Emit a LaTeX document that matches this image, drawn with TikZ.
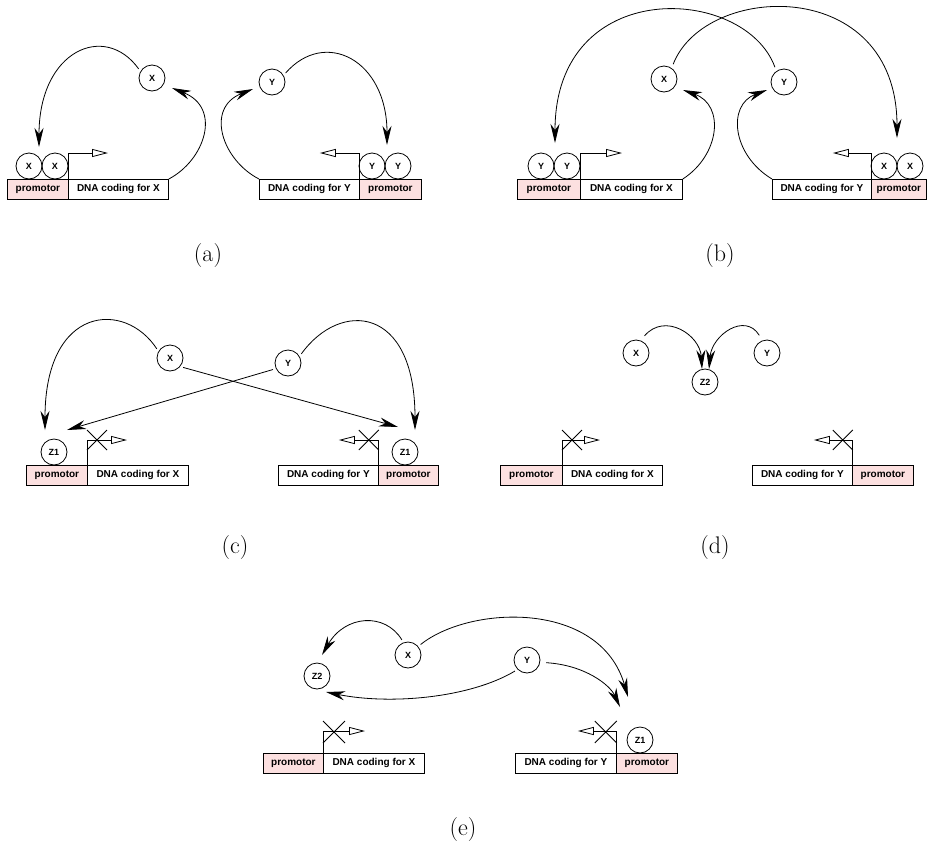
\documentclass[tikz,border=0pt]{standalone}
\usepackage{fontspec}
\newfontfamily\hv{Liberation Sans}
\usetikzlibrary{arrows.meta}
\definecolor{pinkfill}{RGB}{252,224,224}
\begin{document}
\begin{tikzpicture}[x=1pt,y=-1pt,
  box/.style={draw, line width=0.8pt, anchor=north west, minimum height=20pt, inner sep=0pt, font=\hv\bfseries\fontsize{10}{12}\selectfont},
  prom/.style={box, fill=pinkfill},
  dna/.style={box, fill=white},
  mol/.style={circle, draw, line width=0.8pt, minimum size=26pt, inner sep=0pt, font=\hv\bfseries\fontsize{9}{10}\selectfont},
  arr/.style={line width=0.8pt, -{Stealth[length=19pt,width=9pt,inset=6pt]}},
  tss/.style={line width=0.8pt, -{Triangle[open,length=16pt,width=8pt]}},
  crossline/.style={line width=0.8pt},
  capt/.style={font=\fontsize{24}{28}\selectfont}
]
\useasboundingbox (0,0) rectangle (927,852);
% ---------- (a)
\node[prom, minimum width=61pt] (aP1) at (7,179) {promotor};
\node[dna, minimum width=100pt] (aD1) at (68,179) {DNA coding for X};
\node[dna, minimum width=100pt] (aD2) at (259,179) {DNA coding for Y};
\node[prom, minimum width=62pt] (aP2) at (359,179) {promotor};
\node[mol] (aXb1) at (29,166) {X};
\node[mol] (aXb2) at (55,166) {X};
\node[mol] (aYb1) at (372,166) {Y};
\node[mol] (aYb2) at (398,166) {Y};
\node[mol] (aX) at (152,78) {X};
\node[mol] (aY) at (272,82) {Y};
\draw[tss] (aD1.north west) -- ++(0,-26) -- ++(40,0);
\draw[tss] (aD2.north east) -- ++(0,-26) -- ++(-40,0);
\coordinate (aT1) at (39,147);
\coordinate (aT2) at (172,88);
\coordinate (aT3) at (387,145);
\coordinate (aT4) at (253,89);
\draw[arr, shorten <=3pt] (aX.150) .. controls (105,22) and (39,50) .. (aT1);
\draw[arr] (aD1.north east) .. controls (205,160) and (222,108) .. (aT2);
\draw[arr, shorten <=3pt] (aY.30) .. controls (325,28) and (387,60) .. (aT3);
\draw[arr] (aD2.north west) .. controls (222,160) and (205,108) .. (aT4);
\node[capt] (aCap) at (208,256) {(a)};
% ---------- (b)
\node[prom, minimum width=63pt] (bP1) at (517,179) {promotor};
\node[dna, minimum width=102pt] (bD1) at (580,179) {DNA coding for X};
\node[dna, minimum width=99pt] (bD2) at (772,179) {DNA coding for Y};
\node[prom, minimum width=55pt] (bP2) at (871,179) {promotor};
\node[mol] (bYb1) at (541,166) {Y};
\node[mol] (bYb2) at (567,166) {Y};
\node[mol] (bXb1) at (884,166) {X};
\node[mol] (bXb2) at (910,166) {X};
\node[mol] (bX) at (664,79) {X};
\node[mol] (bY) at (784,82) {Y};
\draw[tss] (bD1.north west) -- ++(0,-26) -- ++(42,0);
\draw[tss] (bD2.north east) -- ++(0,-26) -- ++(-39,0);
\coordinate (bT1) at (555,143);
\coordinate (bT2) at (897,138);
\coordinate (bT3) at (683,90);
\coordinate (bT4) at (767,90);
\draw[arr, shorten <=4pt] (bY.125) .. controls (745,-15) and (555,-25) .. (bT1);
\draw[arr, shorten <=4pt] (bX.55) .. controls (705,-18) and (897,-25) .. (bT2);
\draw[arr] (bD1.north east) .. controls (720,155) and (725,105) .. (bT3);
\draw[arr] (bD2.north west) .. controls (732,155) and (727,105) .. (bT4);
\node[capt] (bCap) at (720,256) {(b)};
% ---------- (c)
\node[prom, minimum width=61pt] (cP1) at (26,465) {promotor};
\node[dna, minimum width=101pt] (cD1) at (87,465) {DNA coding for X};
\node[dna, minimum width=100pt] (cD2) at (278,465) {DNA coding for Y};
\node[prom, minimum width=60pt] (cP2) at (378,465) {promotor};
\node[mol] (cZa) at (54,452) {Z1};
\node[mol] (cZb) at (405,452) {Z1};
\node[mol] (cX) at (170,358) {X};
\node[mol] (cY) at (288,363) {Y};
\draw[tss] (cD1.north west) -- ++(0,-25) -- ++(40,0);
\draw[tss] (cD2.north east) -- ++(0,-25) -- ++(-40,0);
\draw[crossline] (cD1.north west) ++(0,-35) -- ++(20,20) ++(0,-20) -- ++(-20,20);
\draw[crossline] (cD2.north east) ++(0,-35) -- ++(-20,20) ++(0,-20) -- ++(20,20);
\coordinate (cT1) at (45,430);
\coordinate (cT2) at (67,430);
\coordinate (cT3) at (398,427);
\coordinate (cT4) at (415,430);
\draw[arr, shorten <=3pt] (cX.150) .. controls (125,300) and (45,305) .. (cT1);
\draw[arr, shorten <=3pt] (cY.205) -- (cT2);
\draw[arr, shorten <=3pt] (cX.-40) -- (cT3);
\draw[arr, shorten <=3pt] (cY.30) .. controls (340,300) and (415,305) .. (cT4);
\node[capt] (cCap) at (235,548) {(c)};
% ---------- (d)
\node[prom, minimum width=62pt] (dP1) at (500,465) {promotor};
\node[dna, minimum width=100pt] (dD1) at (562,465) {DNA coding for X};
\node[dna, minimum width=100pt] (dD2) at (752,465) {DNA coding for Y};
\node[prom, minimum width=61pt] (dP2) at (852,465) {promotor};
\node[mol] (dX) at (636,353) {X};
\node[mol] (dY) at (767,353) {Y};
\node[mol] (dZ) at (705,382) {Z2};
\draw[tss] (dD1.north west) -- ++(0,-25) -- ++(38,0);
\draw[tss] (dD2.north east) -- ++(0,-25) -- ++(-39,0);
\draw[crossline] (dD1.north west) ++(0,-35) -- ++(20,20) ++(0,-20) -- ++(-20,20);
\draw[crossline] (dD2.north east) ++(0,-35) -- ++(-20,20) ++(0,-20) -- ++(20,20);
\coordinate (dT1) at (702,369);
\coordinate (dT2) at (709,369);
\draw[arr, shorten <=6pt] (dX.70) .. controls (665,312) and (700,335) .. (dT1);
\draw[arr, shorten <=6pt] (dY.110) .. controls (745,312) and (712,335) .. (dT2);
\node[capt] (dCap) at (715,548) {(d)};
% ---------- (e)
\node[prom, minimum width=60pt] (eP1) at (263,753) {promotor};
\node[dna, minimum width=101pt] (eD1) at (323,753) {DNA coding for X};
\node[dna, minimum width=101pt] (eD2) at (515,753) {DNA coding for Y};
\node[prom, minimum width=61pt] (eP2) at (616,753) {promotor};
\node[mol] (eX) at (408,655) {X};
\node[mol] (eY) at (527,660) {Y};
\node[mol] (eZ2) at (317,676) {Z2};
\node[mol] (eZ1) at (640,740) {Z1};
\draw[tss] (eD1.north west) -- ++(0,-22) -- ++(42,0);
\draw[tss] (eD2.north east) -- ++(0,-22) -- ++(-39,0);
\draw[crossline] (eD1.north west) ++(0,-32) -- ++(22,22) ++(0,-22) -- ++(-22,22);
\draw[crossline] (eD2.north east) ++(0,-32) -- ++(-22,22) ++(0,-22) -- ++(22,22);
\coordinate (eT1) at (322,655);
\coordinate (eT2) at (326,692);
\coordinate (eT3) at (628,697);
\coordinate (eT4) at (620,707);
\draw[arr, shorten <=3pt] (eX.110) .. controls (385,612) and (345,615) .. (eT1);
\draw[arr, shorten <=3pt] (eY.225) .. controls (470,698) and (390,705) .. (eT2);
\draw[arr, shorten <=3pt] (eX.40) .. controls (470,605) and (600,600) .. (eT3);
\draw[arr, shorten <=6pt] (eY.-10) .. controls (585,665) and (610,685) .. (eT4);
\node[capt] (eCap) at (463,830) {(e)};
\end{tikzpicture}
\end{document}
